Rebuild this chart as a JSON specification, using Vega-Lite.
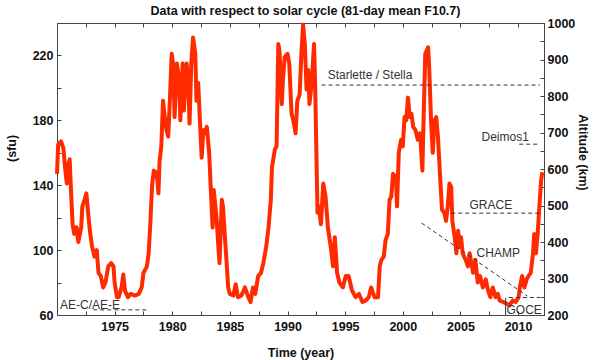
{
  "$schema": "https://vega.github.io/schema/vega-lite/v6.json",
  "width": 487,
  "height": 292,
  "autosize": "none",
  "padding": {"left": 57, "top": 23, "right": 56, "bottom": 45},
  "background": "white",
  "title": {"text": "Data with respect to solar cycle (81-day mean F10.7)", "font": "Liberation Sans", "fontSize": 12.5, "fontWeight": "bold", "color": "#111", "anchor": "middle", "offset": 0, "dx": 5},
  "config": {
    "view": {"stroke": "#444", "strokeWidth": 1},
    "axis": {"labelFont": "Liberation Sans", "labelFontWeight": "bold", "labelFontSize": 12.5, "labelColor": "#111", "titleFont": "Liberation Sans", "titleFontWeight": "bold", "titleFontSize": 12.5, "titleColor": "#111", "domainColor": "#444", "tickColor": "#444", "grid": false, "labelFlush": false, "labelOverlap": false, "tickSize": -4}
  },
  "datasets": {
    "f107": [
      {"year":1970.0,"sfu":147},{"year":1970.1,"sfu":165},{"year":1970.35,"sfu":167},{"year":1970.55,"sfu":163},{"year":1970.7,"sfu":151},{"year":1970.85,"sfu":141},{"year":1971.0,"sfu":153},{"year":1971.1,"sfu":156},{"year":1971.2,"sfu":139},{"year":1971.35,"sfu":116},{"year":1971.5,"sfu":110},{"year":1971.7,"sfu":114},{"year":1971.85,"sfu":105},{"year":1972.1,"sfu":114},{"year":1972.2,"sfu":127},{"year":1972.35,"sfu":130},{"year":1972.55,"sfu":135},{"year":1972.7,"sfu":123},{"year":1972.85,"sfu":112},{"year":1973.05,"sfu":102},{"year":1973.25,"sfu":96},{"year":1973.45,"sfu":100},{"year":1973.6,"sfu":86},{"year":1973.8,"sfu":84},{"year":1974.0,"sfu":77},{"year":1974.2,"sfu":80},{"year":1974.45,"sfu":90},{"year":1974.7,"sfu":92},{"year":1974.9,"sfu":90},{"year":1975.0,"sfu":80},{"year":1975.2,"sfu":71},{"year":1975.35,"sfu":71},{"year":1975.6,"sfu":77},{"year":1975.75,"sfu":85},{"year":1975.9,"sfu":75},{"year":1976.15,"sfu":71},{"year":1976.4,"sfu":73},{"year":1976.75,"sfu":72},{"year":1977.1,"sfu":73},{"year":1977.35,"sfu":77},{"year":1977.5,"sfu":86},{"year":1977.8,"sfu":90},{"year":1977.95,"sfu":98},{"year":1978.1,"sfu":117},{"year":1978.25,"sfu":140},{"year":1978.4,"sfu":149},{"year":1978.55,"sfu":148},{"year":1978.65,"sfu":148},{"year":1978.8,"sfu":135},{"year":1978.9,"sfu":155},{"year":1979.05,"sfu":164},{"year":1979.2,"sfu":192},{"year":1979.35,"sfu":182},{"year":1979.5,"sfu":174},{"year":1979.65,"sfu":170},{"year":1979.8,"sfu":194},{"year":1979.95,"sfu":221},{"year":1980.1,"sfu":213},{"year":1980.2,"sfu":182},{"year":1980.4,"sfu":215},{"year":1980.6,"sfu":205},{"year":1980.7,"sfu":180},{"year":1980.9,"sfu":215},{"year":1981.0,"sfu":186},{"year":1981.25,"sfu":215},{"year":1981.4,"sfu":201},{"year":1981.5,"sfu":178},{"year":1981.65,"sfu":215},{"year":1981.8,"sfu":231},{"year":1982.0,"sfu":221},{"year":1982.1,"sfu":192},{"year":1982.25,"sfu":203},{"year":1982.4,"sfu":180},{"year":1982.55,"sfu":157},{"year":1982.7,"sfu":174},{"year":1982.8,"sfu":172},{"year":1983.0,"sfu":176},{"year":1983.2,"sfu":160},{"year":1983.35,"sfu":137},{"year":1983.5,"sfu":114},{"year":1983.6,"sfu":137},{"year":1983.85,"sfu":119},{"year":1984.0,"sfu":102},{"year":1984.1,"sfu":92},{"year":1984.3,"sfu":131},{"year":1984.4,"sfu":127},{"year":1984.55,"sfu":110},{"year":1984.7,"sfu":94},{"year":1984.85,"sfu":77},{"year":1985.0,"sfu":73},{"year":1985.3,"sfu":72},{"year":1985.5,"sfu":79},{"year":1985.7,"sfu":71},{"year":1986.0,"sfu":72},{"year":1986.3,"sfu":77},{"year":1986.6,"sfu":71},{"year":1986.8,"sfu":68},{"year":1987.0,"sfu":77},{"year":1987.2,"sfu":73},{"year":1987.45,"sfu":84},{"year":1987.7,"sfu":86},{"year":1987.9,"sfu":92},{"year":1988.15,"sfu":102},{"year":1988.35,"sfu":114},{"year":1988.55,"sfu":131},{"year":1988.65,"sfu":151},{"year":1988.9,"sfu":162},{"year":1989.05,"sfu":164},{"year":1989.2,"sfu":227},{"year":1989.3,"sfu":223},{"year":1989.5,"sfu":190},{"year":1989.6,"sfu":205},{"year":1989.75,"sfu":219},{"year":1990.0,"sfu":221},{"year":1990.15,"sfu":215},{"year":1990.35,"sfu":184},{"year":1990.5,"sfu":180},{"year":1990.7,"sfu":172},{"year":1990.85,"sfu":192},{"year":1991.05,"sfu":196},{"year":1991.2,"sfu":221},{"year":1991.35,"sfu":239},{"year":1991.5,"sfu":227},{"year":1991.65,"sfu":199},{"year":1991.8,"sfu":211},{"year":1991.9,"sfu":190},{"year":1992.1,"sfu":203},{"year":1992.3,"sfu":227},{"year":1992.4,"sfu":201},{"year":1992.6,"sfu":123},{"year":1992.7,"sfu":127},{"year":1992.9,"sfu":116},{"year":1993.1,"sfu":141},{"year":1993.3,"sfu":133},{"year":1993.5,"sfu":114},{"year":1993.75,"sfu":102},{"year":1993.95,"sfu":90},{"year":1994.1,"sfu":108},{"year":1994.3,"sfu":86},{"year":1994.5,"sfu":80},{"year":1994.8,"sfu":77},{"year":1995.05,"sfu":84},{"year":1995.3,"sfu":84},{"year":1995.6,"sfu":75},{"year":1995.9,"sfu":71},{"year":1996.2,"sfu":73},{"year":1996.5,"sfu":68},{"year":1996.8,"sfu":69},{"year":1997.05,"sfu":71},{"year":1997.25,"sfu":77},{"year":1997.55,"sfu":71},{"year":1997.85,"sfu":71},{"year":1998.0,"sfu":90},{"year":1998.15,"sfu":94},{"year":1998.35,"sfu":96},{"year":1998.5,"sfu":106},{"year":1998.7,"sfu":110},{"year":1998.85,"sfu":131},{"year":1999.0,"sfu":133},{"year":1999.15,"sfu":147},{"year":1999.4,"sfu":145},{"year":1999.5,"sfu":127},{"year":1999.65,"sfu":160},{"year":1999.85,"sfu":168},{"year":2000.0,"sfu":164},{"year":2000.15,"sfu":182},{"year":2000.3,"sfu":180},{"year":2000.45,"sfu":194},{"year":2000.6,"sfu":182},{"year":2000.75,"sfu":184},{"year":2000.9,"sfu":176},{"year":2001.1,"sfu":174},{"year":2001.3,"sfu":168},{"year":2001.5,"sfu":172},{"year":2001.7,"sfu":149},{"year":2001.8,"sfu":180},{"year":2001.95,"sfu":221},{"year":2002.2,"sfu":225},{"year":2002.3,"sfu":211},{"year":2002.45,"sfu":180},{"year":2002.6,"sfu":160},{"year":2002.75,"sfu":180},{"year":2002.9,"sfu":182},{"year":2003.05,"sfu":170},{"year":2003.2,"sfu":150},{"year":2003.4,"sfu":125},{"year":2003.6,"sfu":123},{"year":2003.75,"sfu":118},{"year":2003.9,"sfu":127},{"year":2004.05,"sfu":141},{"year":2004.2,"sfu":139},{"year":2004.3,"sfu":118},{"year":2004.5,"sfu":108},{"year":2004.65,"sfu":98},{"year":2004.8,"sfu":112},{"year":2004.9,"sfu":102},{"year":2005.05,"sfu":108},{"year":2005.2,"sfu":98},{"year":2005.45,"sfu":94},{"year":2005.65,"sfu":90},{"year":2005.8,"sfu":98},{"year":2006.1,"sfu":86},{"year":2006.3,"sfu":94},{"year":2006.5,"sfu":80},{"year":2006.7,"sfu":84},{"year":2006.95,"sfu":77},{"year":2007.2,"sfu":82},{"year":2007.4,"sfu":75},{"year":2007.6,"sfu":71},{"year":2007.8,"sfu":77},{"year":2008.05,"sfu":71},{"year":2008.25,"sfu":73},{"year":2008.4,"sfu":69},{"year":2008.7,"sfu":68},{"year":2009.0,"sfu":67},{"year":2009.25,"sfu":66},{"year":2009.55,"sfu":69},{"year":2009.8,"sfu":68},{"year":2010.05,"sfu":71},{"year":2010.15,"sfu":77},{"year":2010.35,"sfu":84},{"year":2010.55,"sfu":77},{"year":2010.75,"sfu":82},{"year":2010.9,"sfu":84},{"year":2011.1,"sfu":86},{"year":2011.3,"sfu":98},{"year":2011.4,"sfu":110},{"year":2011.55,"sfu":98},{"year":2011.7,"sfu":110},{"year":2011.85,"sfu":127},{"year":2012.0,"sfu":143},{"year":2012.1,"sfu":148}
    ],
    "sat": [
      {"name":"AE-C/AE-E","x1":1973.15,"x2":1977.9,"a1":214,"a2":214},
      {"name":"Starlette / Stella","x1":1992.95,"x2":2011.9,"a1":830,"a2":830},
      {"name":"Deimos1","x1":2010.1,"x2":2011.9,"a1":668,"a2":668},
      {"name":"GRACE","x1":2004.2,"x2":2011.9,"a1":479,"a2":479},
      {"name":"CHAMP","x1":2001.63,"x2":2010.8,"a1":452,"a2":252},
      {"name":"GOCE","x1":2009.2,"x2":2011.9,"a1":248,"a2":248}
    ],
    "goceBox": [
      {"x":2008.92,"a1":200,"a2":247}
    ],
    "labels": [
      {"label":"AE-C/AE-E","x":1970.26,"a":227},
      {"label":"Starlette / Stella","x":1993.48,"a":857},
      {"label":"Deimos1","x":2006.83,"a":688},
      {"label":"GRACE","x":2005.79,"a":501},
      {"label":"CHAMP","x":2006.4,"a":370},
      {"label":"GOCE","x":2009.0,"a":214}
    ]
  },
  "layer": [
    {
      "data": {"name": "f107"},
      "mark": {"type": "line", "color": "#ff2a00", "strokeWidth": 4, "strokeJoin": "round"},
      "encoding": {
        "x": {"field": "year", "type": "quantitative", "scale": {"domain": [1970, 2012.25], "nice": false, "zero": false},
          "axis": {"orient": "bottom", "values": [1970,1972.5,1975,1977.5,1980,1982.5,1985,1987.5,1990,1992.5,1995,1997.5,2000,2002.5,2005,2007.5,2010], "labelExpr": "datum.value % 5 == 0 && datum.value > 1970 ? format(datum.value, 'd') : ''", "labelPadding": 9, "title": "Time (year)", "titleX": 243.5, "titleY": 37, "titleBaseline": "middle", "titleAlign": "center"}},
        "y": {"field": "sfu", "type": "quantitative", "scale": {"domain": [60, 240], "nice": false, "zero": false},
          "axis": {"orient": "left", "values": [60,80,100,120,140,160,180,200,220,240], "labelExpr": "datum.value % 40 == 20 ? format(datum.value, 'd') : ''", "labelPadding": 8, "title": "(sfu)", "titleX": -46, "titleY": 125, "titleBaseline": "middle", "titleAlign": "center"}}
      }
    },
    {
      "data": {"name": "sat"},
      "mark": {"type": "rule", "color": "#333", "strokeWidth": 1, "strokeDash": [4, 3]},
      "encoding": {
        "x": {"field": "x1", "type": "quantitative", "scale": {"domain": [1970, 2012.25], "nice": false, "zero": false},
          "axis": {"orient": "top", "values": [1970,1972.5,1975,1977.5,1980,1982.5,1985,1987.5,1990,1992.5,1995,1997.5,2000,2002.5,2005,2007.5,2010], "labels": false, "title": null}},
        "x2": {"field": "x2"},
        "y": {"field": "a1", "type": "quantitative", "scale": {"domain": [200, 1000], "nice": false, "zero": false},
          "axis": {"orient": "right", "values": [200,250,300,350,400,450,500,550,600,650,700,750,800,850,900,950,1000], "labelExpr": "datum.value % 100 == 0 ? format(datum.value, 'd') : ''", "labelPadding": 7, "title": "Altitude (km)", "titleX": 38, "titleY": 129, "titleBaseline": "middle", "titleAlign": "center"}},
        "y2": {"field": "a2"}
      }
    },
    {
      "data": {"name": "goceBox"},
      "mark": {"type": "rule", "color": "#333", "strokeWidth": 1},
      "encoding": {
        "x": {"field": "x", "type": "quantitative", "scale": {"domain": [1970, 2012.25], "nice": false, "zero": false}, "axis": null},
        "y": {"field": "a1", "type": "quantitative", "scale": {"domain": [200, 1000], "nice": false, "zero": false}, "axis": null},
        "y2": {"field": "a2"}
      }
    },
    {
      "data": {"name": "labels"},
      "mark": {"type": "text", "font": "Liberation Sans", "fontSize": 12, "color": "#333", "align": "left", "baseline": "middle"},
      "encoding": {
        "x": {"field": "x", "type": "quantitative", "scale": {"domain": [1970, 2012.25], "nice": false, "zero": false}, "axis": null},
        "y": {"field": "a", "type": "quantitative", "scale": {"domain": [200, 1000], "nice": false, "zero": false}, "axis": null},
        "text": {"field": "label"}
      }
    }
  ],
  "resolve": {"scale": {"y": "independent"}, "axis": {"x": "independent", "y": "independent"}}
}
